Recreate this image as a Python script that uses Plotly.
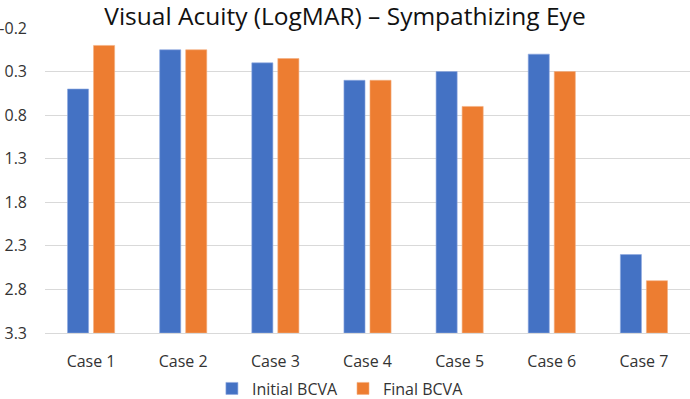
import plotly.graph_objects as go

categories = ["Case 1", "Case 2", "Case 3", "Case 4", "Case 5", "Case 6", "Case 7"]
initial_bcva = [0.5, 0.05, 0.2, 0.4, 0.3, 0.1, 2.4]
final_bcva = [0.0, 0.05, 0.15, 0.4, 0.7, 0.3, 2.7]
tick_vals = [-0.2, 0.3, 0.8, 1.3, 1.8, 2.3, 2.8, 3.3]
tick_text = ["-0.2", "0.3", "0.8", "1.3", "1.8", "2.3", "2.8", "3.3"]
axis_base = 3.3

FONT = "Open Sans"

fig = go.Figure()
fig.add_trace(go.Bar(
    name="Initial BCVA", x=categories,
    y=[v - axis_base for v in initial_bcva], base=axis_base,
    marker=dict(color="#4472C4", line=dict(color="#8FA9E0", width=0.6)),
    customdata=initial_bcva, hovertemplate="%{x}: %{customdata}<extra>Initial BCVA</extra>",
))
fig.add_trace(go.Bar(
    name="Final BCVA", x=categories,
    y=[v - axis_base for v in final_bcva], base=axis_base,
    marker=dict(color="#ED7D31", line=dict(color="#F4AE80", width=0.6)),
    customdata=final_bcva, hovertemplate="%{x}: %{customdata}<extra>Final BCVA</extra>",
))

fig.update_layout(
    width=690, height=399,
    margin=dict(l=45, r=0, t=28, b=66, autoexpand=False),
    paper_bgcolor="white", plot_bgcolor="white",
    barmode="group", bargap=0.435, bargroupgap=0.19,
    font=dict(family=FONT, size=16, color="#333333"),
    title=dict(text="Visual Acuity (LogMAR) – Sympathizing Eye",
               x=0.5, xanchor="center", y=0.958, yanchor="middle",
               font=dict(family=FONT, size=24.5, color="#111111")),
    showlegend=True,
    legend=dict(orientation="h", x=0.458, xanchor="center", y=-0.182, yanchor="middle",
                font=dict(family=FONT, size=16, color="#333333"),
                itemwidth=30, traceorder="normal"),
)
fig.update_xaxes(showgrid=False, showline=True, linecolor="#D9D9D9", linewidth=1,
                 ticks="", tickfont=dict(size=16), ticklabelstandoff=14, automargin=False)
fig.update_yaxes(range=[axis_base, -0.2], tickmode="array", tickvals=tick_vals, ticktext=tick_text,
                 showgrid=True, gridcolor="#D9D9D9", gridwidth=1, zeroline=False,
                 showline=False, ticks="", ticklabelstandoff=17, tickfont=dict(size=16),
                 automargin=False)

fig.write_html("out.html", config={"displayModeBar": False},
               post_script="document.body.style.margin='0';document.body.style.overflow='hidden';")
